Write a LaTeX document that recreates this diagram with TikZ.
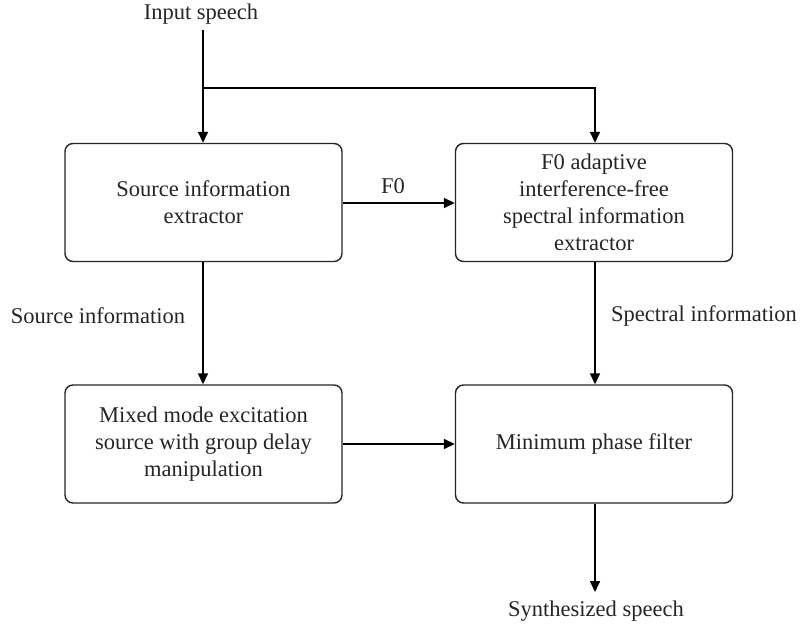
\documentclass[tikz,border=0pt]{standalone}
\usepackage{fontspec}
\setmainfont{Liberation Serif}
\usetikzlibrary{arrows.meta}
\begin{document}
\begin{tikzpicture}[x=1pt,y=-1pt,
  every node/.style={font=\fontsize{22.5}{27}\selectfont, text=black!85},
  blockbox/.style={draw=black!85, line width=1.4pt, rounded corners=8pt,
    minimum width=277pt, minimum height=118pt, align=center, inner sep=0pt},
  conn/.style={line width=1.6pt, draw=black},
  arr/.style={conn, -{Triangle[length=11pt,width=10pt]}},
  lbl/.style={inner sep=0pt}]
\useasboundingbox (0,0) rectangle (800,630);
\fill[white] (0,0) rectangle (800,630);
\node[lbl] (in) at (201,14) {Input speech};
\node[blockbox] (sie) at (203.5,202.5) {Source information\\extractor};
\node[blockbox] (fsie) at (594,202.5) {F0 adaptive\\interference-free\\spectral information\\extractor};
\node[blockbox] (mme) at (203.5,444) {Mixed mode excitation\\source with group delay\\manipulation};
\node[blockbox] (mpf) at (594,444) {Minimum phase filter};
\node[lbl] (out) at (596,611) {Synthesized speech};
\node[lbl] (f0) at (393,186) {F0};
\node[lbl] (srcinfo) at (98,316) {Source information};
\node[lbl] (specinfo) at (704,316) {Spectral information};
\coordinate (start) at (203,30);
\coordinate (branch) at (203,88);
\coordinate (corner) at (595,88);
\coordinate (end) at (595,592);
\draw[arr] (start) -- (sie.north -| start);
\draw[arr] (branch) -- (corner) -- (fsie.north -| corner);
\draw[arr] (sie.east |- 0,203) -- (fsie.west |- 0,203);
\draw[arr] (sie.south -| start) -- (mme.north -| start);
\draw[arr] (fsie.south -| corner) -- (mpf.north -| corner);
\draw[arr] (mme.east) -- (mpf.west);
\draw[arr] (mpf.south -| corner) -- (end);
\end{tikzpicture}
\end{document}
